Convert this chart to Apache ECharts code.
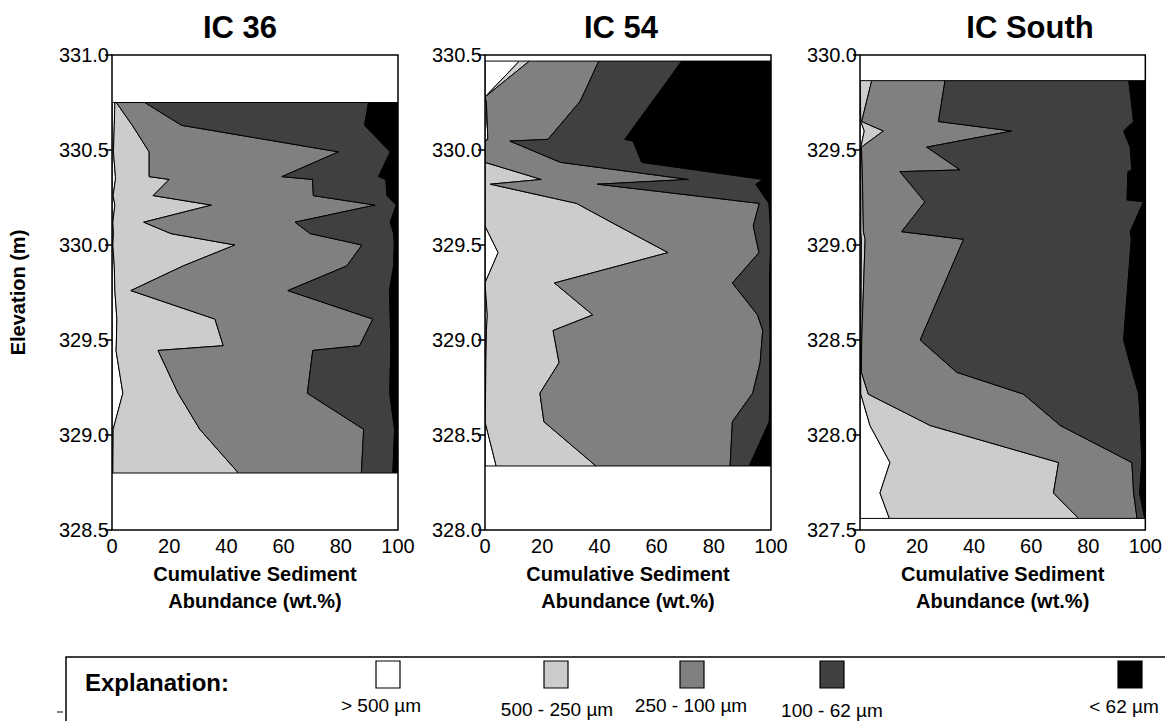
<!DOCTYPE html>
<html>
<head>
<meta charset="utf-8">
<title>Cumulative sediment abundance</title>
<script src="https://cdn.jsdelivr.net/npm/echarts@6/dist/echarts.min.js"></script>
<style>
  html, body { margin: 0; padding: 0; background: #fff; }
  #chart { width: 1165px; height: 721px; }
</style>
</head>
<body>
<div id="chart"></div>
<script>
const panelTitles = ["IC 36", "IC 54", "IC South"];
const sizeClasses = ["> 500 \u00b5m", "500 - 250 \u00b5m", "250 - 100 \u00b5m", "100 - 62 \u00b5m", "< 62 \u00b5m"];
const elevationMin = [328.5, 328.0, 327.5];
const elevationMax = [331.0, 330.5, 330.0];
const abundanceTicks = [0, 20, 40, 60, 80, 100];

// cumulative wt.% at each sampled elevation: upper edge of each size class
const ic36Elev = [330.75, 330.63, 330.49, 330.36, 330.345, 330.26, 330.21, 330.12, 330.06, 330.00, 329.89, 329.76, 329.61, 329.47, 329.445, 329.22, 329.03, 328.8];
const ic36Cum500 = [1.0, 0.8, 0.5, 1.2, 1.2, 0.4, 1.0, 0.3, 0.5, 0.3, 0.8, 1.0, 1.7, 1.5, 1.4, 3.8, 0.4, 0.3];
const ic36Cum250 = [1.5, 7.1, 13.0, 13.0, 20.0, 14.4, 34.8, 11.1, 20.6, 43.0, 24.9, 6.6, 36.0, 38.9, 16.1, 23.1, 30.7, 44.2];
const ic36Cum100 = [11.5, 24.3, 79.2, 59.4, 70.1, 70.4, 92.0, 64.0, 69.3, 87.4, 82.1, 61.5, 91.2, 86.6, 70.2, 68.3, 88.0, 87.2];
const ic36Cum62 = [89.7, 88.3, 97.3, 93.2, 95.8, 96.1, 99.4, 97.3, 98.5, 98.7, 98.5, 97.0, 97.3, 97.5, 97.5, 97.1, 98.8, 98.2];

const ic54Elev = [330.468, 330.279, 330.253, 330.056, 330.047, 329.935, 329.845, 329.82, 329.719, 329.6, 329.46, 329.3, 329.132, 329.05, 328.88, 328.72, 328.57, 328.337];
const ic54Cum500 = [12.0, 0, 0.5, 1.0, 0, 0, 0, 0, 0, 0, 4.6, 0, 0.8, 0.5, 0.3, 0.2, 0, 3.9];
const ic54Cum250 = [15.5, 0, 0.5, 1.0, 0, 0, 19.7, 1.9, 32.0, 46.6, 64.0, 24.3, 37.7, 23.8, 25.9, 19.2, 20.6, 38.8];
const ic54Cum100 = [39.8, 34.0, 33.1, 22.0, 8.7, 26.4, 71.2, 39.3, 95.9, 93.8, 95.8, 86.5, 95.3, 97.1, 96.2, 93.6, 86.5, 85.7];
const ic54Cum62 = [68.8, 59.7, 58.4, 48.9, 51.8, 54.8, 97.3, 94.7, 99.3, 99.8, 99.8, 99.5, 99.5, 99.7, 99.6, 99.6, 99.4, 92.4];

const icSouthElev = [329.865, 329.65, 329.6, 329.515, 329.395, 329.386, 329.237, 329.228, 329.07, 329.03, 328.5, 328.33, 328.215, 328.05, 327.855, 327.695, 327.561];
const icSouthCum500 = [0, 0.3, 1.5, 0.3, 0.3, 0.3, 0.3, 0.3, 0.3, 0.5, 0.3, 0.2, 0.3, 3.5, 10.5, 7.0, 10.3];
const icSouthCum250 = [4.1, 0.6, 8.2, 0.5, 0.8, 0.8, 1.0, 1.0, 1.2, 1.8, 0.6, 0.5, 2.9, 24.6, 69.6, 67.8, 76.6];
const icSouthCum100 = [29.8, 27.5, 53.2, 23.4, 35.1, 14.0, 22.2, 22.8, 14.6, 36.3, 21.1, 33.9, 57.3, 70.2, 95.3, 95.9, 97.1];
const icSouthCum62 = [94.2, 95.9, 92.4, 94.7, 95.3, 93.9, 93.6, 99.4, 94.7, 95.1, 92.4, 95.5, 97.7, 98.3, 98.8, 98.0, 99.8];

const FONT = "'Liberation Sans', Arial, Helvetica, sans-serif";
const CLASS_COLORS = ["#ffffff", "#cccccc", "#808080", "#404040", "#000000"];
const GRID_LEFT = [112, 485, 860];
const TITLE_X = [240, 621, 1030];

const panels = [
  { elev: ic36Elev, edges: [ic36Cum500, ic36Cum250, ic36Cum100, ic36Cum62] },
  { elev: ic54Elev, edges: [ic54Cum500, ic54Cum250, ic54Cum100, ic54Cum62] },
  { elev: icSouthElev, edges: [icSouthCum500, icSouthCum250, icSouthCum100, icSouthCum62] }
];

// one filled polygon per size class, between two cumulative edges
function bandSeries(panelIndex, elev, lower, upper, color) {
  return {
    type: "custom",
    xAxisIndex: panelIndex,
    yAxisIndex: panelIndex,
    silent: true,
    clip: true,
    encode: { x: [0, 1], y: 2 },
    data: elev.map((e, i) => [lower[i], upper[i], e]),
    renderItem(params, api) {
      if (params.dataIndexInside !== 0) {
        return null;
      }
      const n = params.dataInsideLength;
      const leftSide = [];
      const rightSide = [];
      for (let i = 0; i < n; i++) {
        const e = api.value(2, i);
        leftSide.push(api.coord([api.value(0, i), e]));
        rightSide.unshift(api.coord([api.value(1, i), e]));
      }
      return {
        type: "polygon",
        shape: { points: leftSide.concat(rightSide) },
        style: { fill: color, stroke: "#000", lineWidth: 1, lineJoin: "round" }
      };
    }
  };
}

const grids = GRID_LEFT.map((left) => ({
  left: left,
  top: 55,
  width: 286,
  height: 475,
  show: true,
  borderColor: "#000",
  borderWidth: 1.5,
  backgroundColor: "transparent",
  z: 10
}));

const xAxes = GRID_LEFT.map((_, i) => ({
  type: "value",
  gridIndex: i,
  min: abundanceTicks[0],
  max: abundanceTicks[abundanceTicks.length - 1],
  interval: 20,
  axisLine: { show: false },
  axisTick: { show: false },
  splitLine: { show: false },
  axisLabel: { color: "#000", fontSize: 20, fontFamily: FONT, margin: 6 },
  name: "Cumulative Sediment\nAbundance (wt.%)",
  nameLocation: "middle",
  nameGap: 28,
  nameTextStyle: { color: "#000", fontSize: 20, fontWeight: "bold", fontFamily: FONT, lineHeight: 27 }
}));

const yAxes = GRID_LEFT.map((_, i) => ({
  type: "value",
  gridIndex: i,
  min: elevationMin[i],
  max: elevationMax[i],
  interval: 0.5,
  axisLine: { show: false },
  axisTick: { show: true, length: 7, lineStyle: { color: "#000", width: 1.5 } },
  splitLine: { show: false },
  axisLabel: { color: "#000", fontSize: 20, fontFamily: FONT, margin: 3, formatter: (v) => v.toFixed(1) },
  name: i === 0 ? "Elevation (m)" : "",
  nameLocation: "middle",
  nameGap: 84,
  nameTextStyle: { color: "#000", fontSize: 20, fontWeight: "bold", fontFamily: FONT }
}));

const series = [];
panels.forEach((p, i) => {
  const zeros = p.elev.map(() => 0);
  const full = p.elev.map(() => 100);
  const bounds = [zeros, ...p.edges, full];
  for (let k = 0; k < 5; k++) {
    series.push(bandSeries(i, p.elev, bounds[k], bounds[k + 1], CLASS_COLORS[k]));
  }
});

const titleTexts = panelTitles.map((t, i) => ({
  type: "text",
  x: TITLE_X[i],
  y: 27,
  style: { text: t, font: `bold 31px ${FONT}`, fill: "#000", align: "center", verticalAlign: "middle" }
}));

const SWATCH_X = [388, 556, 692, 832, 1130];
const LABEL_X = [381, 557, 691, 832, 1124];
const LABEL_Y = [705, 709, 705, 710, 706];

const legendItems = [];
sizeClasses.forEach((label, k) => {
  legendItems.push({
    type: "rect",
    shape: { x: SWATCH_X[k] - 12, y: 661, width: 24, height: 27 },
    style: { fill: CLASS_COLORS[k], stroke: "#000", lineWidth: 1.2 }
  });
  legendItems.push({
    type: "text",
    x: LABEL_X[k],
    y: LABEL_Y[k],
    style: { text: label, font: `19px ${FONT}`, fill: "#000", align: "center", verticalAlign: "middle" }
  });
});

const chart = echarts.init(document.getElementById("chart"), null, { renderer: "svg" });
chart.setOption({
  backgroundColor: "#fff",
  animation: false,
  grid: grids,
  xAxis: xAxes,
  yAxis: yAxes,
  series: series,
  graphic: [
    ...titleTexts,
    {
      type: "rect",
      shape: { x: 66, y: 657, width: 1120, height: 100 },
      style: { fill: "none", stroke: "#000", lineWidth: 1.5 }
    },
    {
      type: "text",
      x: 85,
      y: 682,
      style: { text: "Explanation:", font: `bold 24px ${FONT}`, fill: "#000", align: "left", verticalAlign: "middle" }
    },
    {
      type: "line",
      shape: { x1: 57, y1: 712, x2: 63, y2: 712 },
      style: { stroke: "#000", lineWidth: 1 }
    },
    ...legendItems
  ]
});
</script>
</body>
</html>
